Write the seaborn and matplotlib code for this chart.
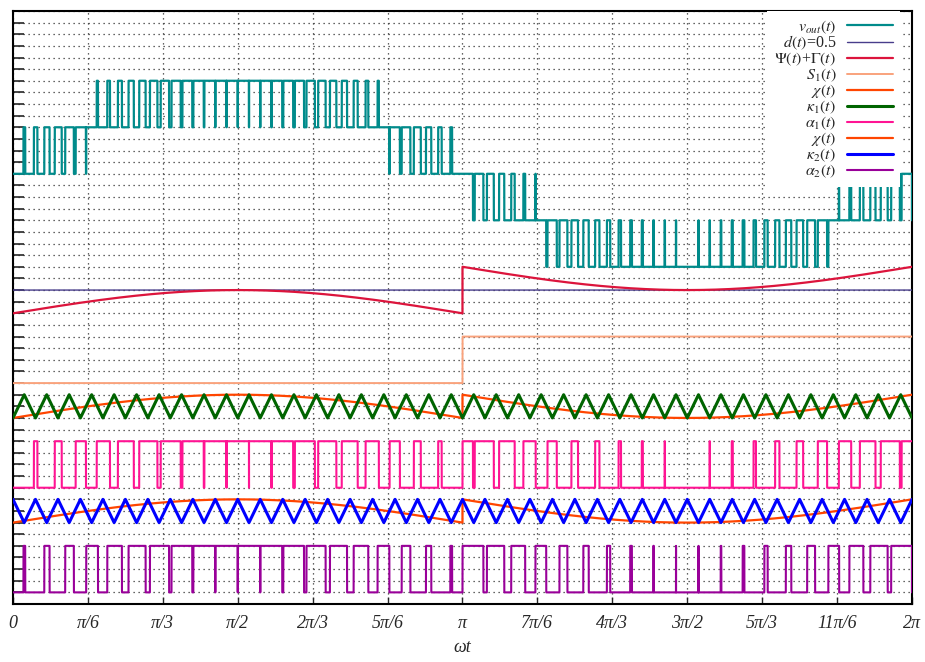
import numpy as np
import pandas as pd
import matplotlib
matplotlib.use('Agg')
import matplotlib.pyplot as plt
from matplotlib.lines import Line2D
import seaborn as sns

# --- values ---
x_tick_labels = ['0', 'π/6', 'π/3', 'π/2', '2π/3', '5π/6', 'π',
                 '7π/6', '4π/3', '3π/2', '5π/3', '11π/6', '2π']
carrier_periods = 40          # triangle periods of kappa_1 / kappa_2 over 0..2pi
duty_level = 0.5              # d(t)
psi_gamma_swing = 0.5         # peak of Psi(t)+Gamma(t) around its base
y_units = 51                  # number of dotted grid rows

legend_labels = [r'$v_{out}(t)$', r'$d(t)$=0.5', r'$\Psi(t)$+$\Gamma(t)$', r'$S_1(t)$',
                 r'$\chi(t)$', r'$\kappa_1(t)$', r'$\alpha_1(t)$',
                 r'$\chi(t)$', r'$\kappa_2(t)$', r'$\alpha_2(t)$']
# base level (grid rows) and height of one signal unit for each trace
trace_base = [37, 25, 25, 19, 16, 16, 10, 7, 7, 1]
trace_gain = [4, 4, 4, 4, 2, 2, 4, 2, 2, 4]

# styles
trace_colors = ['#008b8b', '#483d8b', '#dc143c', '#f9a27c', '#ff4500',
                '#006400', '#ff1493', '#ff4500', '#0000ff', '#990099']
trace_widths = [1.6, 1.0, 1.6, 1.4, 1.6, 2.2, 1.5, 1.6, 2.2, 1.5]

# --- build the waveforms (sine-triangle PWM, two phase shifted carriers) ---
t = np.linspace(0, 2 * np.pi, 40001)
sign = (t >= np.pi).astype(float)                 # S_1
chi = np.sin(t) + sign                            # reference in 0..1
frac = (carrier_periods * t / (2 * np.pi)) % 1.0
kappa1 = 1 - 2 * np.abs(frac - 0.5)               # trough at 0
kappa2 = 2 * np.abs(frac - 0.5)                   # peak at 0
alpha1 = (chi > kappa1).astype(float)
alpha2 = (chi > kappa2).astype(float)
v_out = alpha1 + alpha2 - 2 * sign
d = np.full_like(t, duty_level)
psi_gamma = sign + psi_gamma_swing * np.sin(t)

signals = [v_out, d, psi_gamma, sign, chi, kappa1, alpha1, chi, kappa2, alpha2]

# --- plot ---
sns.set_style('white')
plt.rcParams['mathtext.fontset'] = 'stix'
plt.rcParams['font.family'] = ['Liberation Serif', 'DejaVu Serif']

fig = plt.figure(figsize=(9.25, 6.62), dpi=100)
ax = fig.add_axes([13 / 925, 1 - 604 / 662, 899 / 925, 593 / 662])

handles = []
for sig, base, gain, col, lw, lab in zip(signals, trace_base, trace_gain,
                                          trace_colors, trace_widths, legend_labels):
    df = pd.DataFrame({'t': t, 'y': base + gain * sig})
    sns.lineplot(data=df, x='t', y='y', ax=ax, color=col, linewidth=lw,
                 estimator=None, sort=False, zorder=3)
    handles.append(Line2D([], [], color=col, linewidth=lw, label=lab))

ax.set_xlim(0, 2 * np.pi)
ax.set_ylim(0, y_units)

xt = np.arange(len(x_tick_labels)) * np.pi / 6
ax.set_xticks(xt)
ax.set_xticklabels(x_tick_labels, fontsize=13, fontstyle='italic')
ax.set_yticks(np.arange(0, y_units + 1))
ax.set_yticklabels([])
ax.tick_params(axis='x', direction='in', length=5, width=1, pad=8, bottom=True, top=False)
ax.tick_params(axis='y', direction='in', length=8, width=1.2, left=True, right=False)
ax.grid(True, color='#333333', linestyle=(0, (1, 3)), linewidth=0.9, zorder=1)
for sp in ax.spines.values():
    sp.set_linewidth(1.5)
    sp.set_color('black')

ax.set_xlabel('ωt', fontsize=13, fontstyle='italic', labelpad=5)
ax.set_ylabel('')

leg = ax.legend(handles=handles, loc='upper right', bbox_to_anchor=(0.9867, 1.0),
                markerfirst=False, frameon=True, fancybox=False, framealpha=1,
                facecolor='white', edgecolor='none', fontsize=11.5,
                handlelength=2.9, handletextpad=0.65, labelspacing=-0.1,
                borderpad=0.45, borderaxespad=0.0)
leg.set_zorder(5)

fig.savefig('out.png', dpi=100)
